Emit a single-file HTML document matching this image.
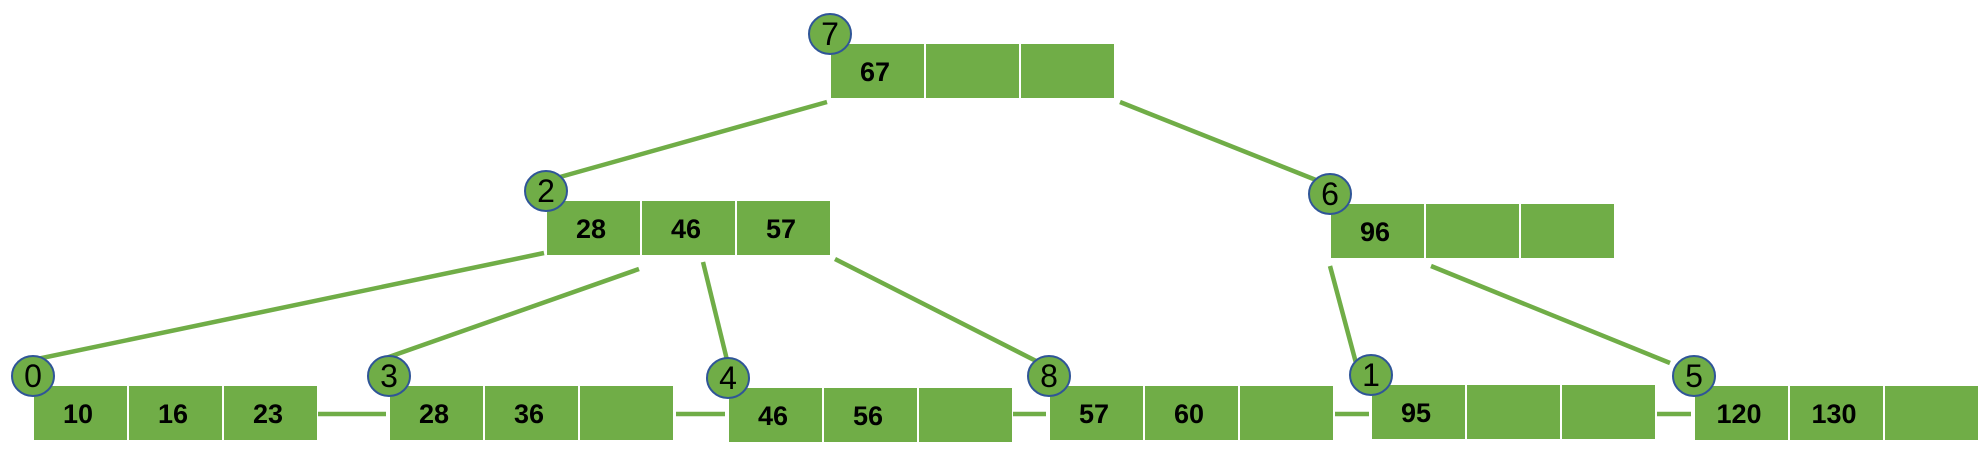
<!DOCTYPE html>
<html><head><meta charset="utf-8"><style>
html,body{margin:0;padding:0;background:#fff;}
svg{display:block;}
.cell{fill:#70AD47;}
.num{font-family:"Liberation Sans",sans-serif;font-weight:bold;font-size:27px;fill:#000;text-anchor:middle;}
.lab{font-family:"Liberation Sans",sans-serif;font-size:32px;fill:#000;text-anchor:middle;}
.edge{stroke:#70AD47;stroke-width:4.5;}
</style></head><body>
<svg id="tree" width="1986" height="452" viewBox="0 0 1986 452" xmlns="http://www.w3.org/2000/svg"></svg>
<script>
const nodeIds = [7,2,6,0,3,4,8,1,5];
const nodeKeys = [[67,"",""],[28,46,57],[96,"",""],[10,16,23],[28,36,""],[46,56,""],[57,60,""],[95,"",""],[120,130,""]];
const nodeX = [831,547,1331,34,390,729,1050,1372,1695];
const nodeY = [44,201,204,386,386,388,386,385,386];
const edges = [[827,102,560,177],[1120,102,1316,180],[544,253,18,363],[639,269,386,358],[703,262,727,360],[835,259,1040,363],[1330,266,1356,363],[1431,266,1670,363]];
const links = [[318,414,386,414],[676,414,725,414],[1013,414,1046,414],[1335,414,1369,414],[1657,414,1691,414]];
const NS="http://www.w3.org/2000/svg";
const svg=document.getElementById('tree');
function mk(t,a){const e=document.createElementNS(NS,t);for(const k in a)e.setAttribute(k,a[k]);svg.appendChild(e);return e;}
edges.forEach((l,i)=>{
  const e=mk('line',{x1:l[0],y1:l[1],x2:l[2],y2:l[3],class:'edge'});
  
  
});
links.forEach(l=>{
  const e=mk('line',{x1:l[0],y1:l[1],x2:l[2],y2:l[3],class:'edge'});
  
  
});
nodeIds.forEach((id,i)=>{
  const x=nodeX[i],y=nodeY[i];
  for(let c=0;c<3;c++){
    const cx=x+c*95;
    const r=mk('rect',{x:cx,y:y,width:93,height:54,class:'cell'});
    
    
    if(nodeKeys[i][c]!==""){
      const t=mk('text',{x:cx+44,y:y+37,class:'num'});
      t.textContent=nodeKeys[i][c];
      
      
    }
  }
  const c=mk('ellipse',{cx:x-1,cy:y-10,rx:21,ry:20,fill:'#70AD47',stroke:'#2F5597','stroke-width':2});
  
  
  const t=mk('text',{x:x-1,y:y+1,class:'lab'});
  t.textContent=id;
  
  
});
</script>
</body></html>
